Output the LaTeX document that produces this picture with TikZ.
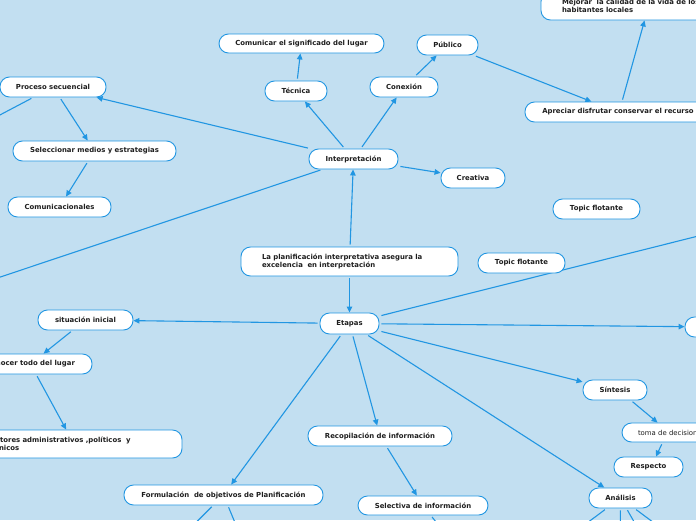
\documentclass[tikz,border=0pt]{standalone}
\usepackage{fontspec}
\setmainfont{DejaVu Sans}
\usetikzlibrary{arrows.meta,calc}
\definecolor{bgc}{RGB}{194,223,241}
\definecolor{ln}{RGB}{33,150,226}
\definecolor{tx}{RGB}{30,30,30}
\pgfdeclarelayer{under}
\pgfsetlayers{under,main}
\begin{document}
\begin{tikzpicture}[x=1pt,y=-1pt,
  box/.style={draw=ln, line width=0.9pt, fill=white, rounded corners=9.5pt,
    font=\fontsize{6.9}{8.3}\selectfont\bfseries, text=tx, inner xsep=1pt, inner ysep=1pt},
  lbox/.style={box, align=left, inner xsep=21pt},
  con/.style={draw=ln, line width=1.1pt, shorten <=2pt},
  arr/.style={con, -{Triangle[length=6pt,width=5.5pt]}}]
\useasboundingbox (0,0) rectangle (696,520);
\begin{pgfonlayer}{under}
\fill[bgc] (0,0) rectangle (696,520);
\end{pgfonlayer}
\clip (0,0) rectangle (696,520);
% nodes
\node[box, minimum width=106pt, minimum height=20pt] (proc) at (53,87) {Proceso secuencial};
\node[box, minimum width=163pt, minimum height=20pt] (selec) at (94.5,151) {Seleccionar medios y estrategias};
\node[box, minimum width=103pt, minimum height=20pt] (comu) at (59.5,207) {Comunicacionales};
\node[box, minimum width=165pt, minimum height=19pt] (signif) at (301.5,43.5) {Comunicar el significado del lugar};
\node[box, minimum width=61pt, minimum height=20pt] (publico) at (447.5,45) {Público};
\node[box, minimum width=62pt, minimum height=20pt] (tecnica) at (296,91) {Técnica};
\node[box, minimum width=68pt, minimum height=20pt] (conexion) at (404,87) {Conexión};
\node[box, minimum width=89pt, minimum height=20pt] (interp) at (353.5,159) {Interpretación};
\node[box, minimum width=64pt, minimum height=20pt] (creativa) at (473,178) {Creativa};
\node[lbox, text width=190pt, minimum height=28pt] (mejorar) at (657,6) {Mejorar~ la calidad de la vida de los\\habitantes locales};
\node[box, minimum width=186pt, minimum height=20pt] (apreciar) at (618,112) {Apreciar disfrutar conservar el recurso};
\node[lbox, text width=175pt, minimum height=29pt] (planif) at (349.5,261.5) {La planificación interpretativa asegura la\\excelencia~ en interpretación};
\node[box, minimum width=87pt, minimum height=20pt] (topicA) at (521.5,263) {Topic flotante};
\node[box, minimum width=87pt, minimum height=20pt] (topicB) at (596.5,209) {Topic flotante};
\node[box, minimum width=59pt, minimum height=21pt] (etapas) at (349.5,323.5) {Etapas};
\node[box, minimum width=75pt, minimum height=20pt] (rightn) at (722.5,327) {};
\node[box, minimum width=95pt, minimum height=20pt] (situ) at (85.5,320) {situación inicial};
\node[box, minimum width=123pt, minimum height=20pt] (conocer) at (30.5,364) {Conocer todo del lugar};
\node[lbox, text width=174pt, minimum height=28pt] (factores) at (74,444) {Factores administrativos ,políticos~ y\\técnicos};
\node[box, minimum width=144pt, minimum height=20pt] (recop) at (380,436) {Recopilación de información};
\node[box, minimum width=130pt, minimum height=19pt] (selectiva) at (423,505.5) {Selectiva de información};
\node[box, minimum width=199pt, minimum height=20pt] (formul) at (223.5,495) {Formulación~ de objetivos de Planificación};
\node[box, minimum width=64pt, minimum height=20pt] (sintesis) at (615,390) {Síntesis};
\node[lbox, font=\fontsize{6.9}{8.3}\selectfont, inner xsep=16pt, text width=80pt, minimum height=19pt] (toma) at (678,432.5) {toma de decisiones};
\node[box, minimum width=69pt, minimum height=20pt] (respecto) at (648.5,467) {Respecto};
\node[box, minimum width=63pt, minimum height=20pt] (analisis) at (620.5,498) {Análisis};
% off-canvas ends
\coordinate (offL1) at (-100,310.5);
\coordinate (offL2) at (-40,136);
\coordinate (offR1) at (800,210.5);
\coordinate (offB1) at (466,560);
\coordinate (offB2) at (158.5,560);
\coordinate (offB3) at (250.5,560);
\coordinate (offB4) at (537.5,560);
\coordinate (offB5) at (620,560);
\coordinate (offB6) at (655.8,560);
\coordinate (offB7) at (704,560);
\begin{pgfonlayer}{under}
\draw[arr] (interp) -- (proc);
\draw[con] (proc) -- (offL2);
\draw[arr] (proc) -- (selec);
\draw[arr] (selec) -- (comu);
\draw[arr] (interp) -- (tecnica);
\draw[arr] (tecnica) -- (signif);
\draw[arr] (interp) -- (conexion);
\draw[arr] (conexion) -- (publico);
\draw[arr] (publico) -- (apreciar);
\draw[arr] ($(apreciar.north)+(4,0)$) -- ($(mejorar.south west)+(104,0)$);
\draw[arr] (interp) -- (creativa);
\draw[con] (interp) -- (offL1);
\draw[arr] (planif) -- (interp);
\draw[arr] (planif) -- (etapas);
\draw[arr] (etapas) -- (situ);
\draw[arr] (situ) -- (conocer);
\draw[arr] (conocer) -- (factores);
\draw[con] (etapas) -- (offR1);
\draw[arr] (etapas) -- (rightn);
\draw[arr] (etapas) -- (sintesis);
\draw[arr] (etapas) -- (analisis);
\draw[arr] (etapas) -- (recop);
\draw[arr] (etapas) -- (formul);
\draw[arr] ($(sintesis.south)+(16,0)$) -- ($(toma.north west)+(36,0)$);
\draw[arr] ($(toma.south west)+(41,0)$) -- ($(respecto.north)+(7.5,0)$);
\draw[arr] (recop) -- (selectiva);
\draw[con] (selectiva) -- (offB1);
\draw[con] (formul) -- (offB2);
\draw[con] (formul) -- (offB3);
\draw[con] (analisis) -- (offB4);
\draw[con] (analisis) -- (offB5);
\draw[con] (analisis) -- (offB6);
\draw[con] (analisis) -- (offB7);
\end{pgfonlayer}
\end{tikzpicture}
\end{document}
